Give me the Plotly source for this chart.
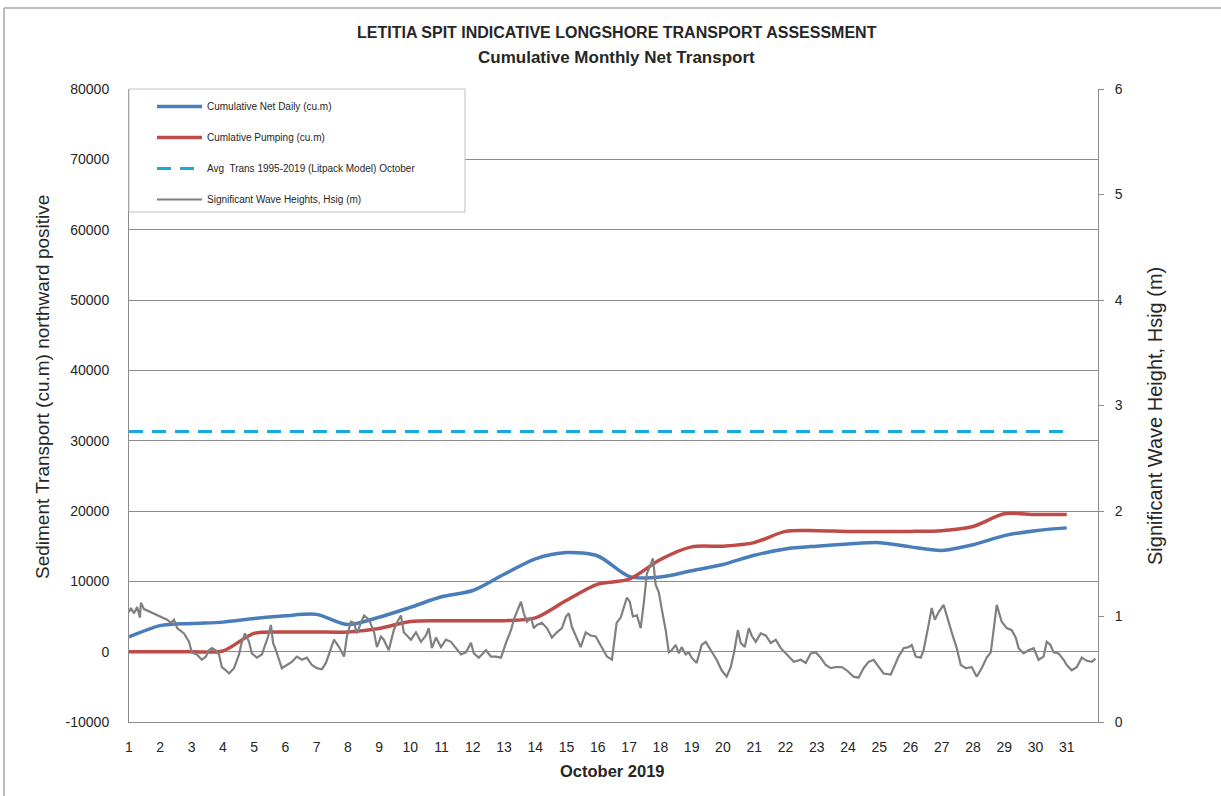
import plotly.graph_objects as go

# ---------------- data ----------------
days = list(range(1, 32))
day_labels = [str(d) for d in days]

left_ticks = [-10000, 0, 10000, 20000, 30000, 40000, 50000, 60000, 70000, 80000]
left_labels = ["-10000", "0", "10000", "20000", "30000", "40000", "50000", "60000", "70000", "80000"]
right_ticks = [0, 1, 2, 3, 4, 5, 6]

net_daily = [2100, 3700, 4000, 4200, 4700, 5100, 5300, 3850, 4900, 6300,
             7800, 8700, 11000, 13200, 14100, 13600, 10700, 10600, 11500, 12400,
             13700, 14600, 15000, 15300, 15500, 14900, 14400, 15200, 16500, 17200,
             17600]

pumping = [0, 0, 0, 100, 2600, 2800, 2800, 2800, 3300, 4300,
           4400, 4400, 4400, 4800, 7300, 9600, 10300, 13100, 14900, 15000,
           15500, 17100, 17200, 17100, 17100, 17100, 17200, 17800, 19600, 19500,
           19500]

avg_trans = 31300

wave_day = [1.00, 1.06, 1.16, 1.26, 1.35, 1.38, 1.48, 2.22, 2.34, 2.44, 2.54, 2.76, 2.92, 3.01, 3.17,
            3.33, 3.46, 3.56, 3.65, 3.78, 3.88, 3.97, 4.10, 4.20, 4.36, 4.52, 4.61, 4.71, 4.84, 4.93,
            5.09, 5.25, 5.38, 5.45, 5.54, 5.61, 5.70, 5.80, 5.89, 6.05, 6.21, 6.37, 6.53, 6.69, 6.85,
            7.01, 7.17, 7.30, 7.40, 7.56, 7.72, 7.88, 7.97, 8.10, 8.20, 8.29, 8.42, 8.52, 8.68, 8.84,
            8.93, 9.06, 9.15, 9.31, 9.47, 9.57, 9.70, 9.79, 9.89, 10.02, 10.18, 10.34, 10.50, 10.59, 10.69,
            10.82, 10.98, 11.14, 11.30, 11.46, 11.62, 11.78, 11.94, 12.03, 12.19, 12.42, 12.58, 12.74, 12.90, 13.06,
            13.22, 13.31, 13.41, 13.54, 13.63, 13.73, 13.86, 13.95, 14.05, 14.21, 14.37, 14.53, 14.69, 14.85, 14.98,
            15.07, 15.17, 15.29, 15.45, 15.61, 15.77, 15.93, 16.09, 16.19, 16.29, 16.45, 16.60, 16.73, 16.83, 16.93,
            17.02, 17.12, 17.25, 17.37, 17.47, 17.57, 17.69, 17.76, 17.85, 17.95, 18.05, 18.17, 18.27, 18.36, 18.49,
            18.59, 18.68, 18.81, 18.91, 19.00, 19.16, 19.32, 19.45, 19.61, 19.80, 19.96, 20.12, 20.25, 20.35, 20.48,
            20.57, 20.70, 20.83, 20.92, 21.05, 21.21, 21.37, 21.53, 21.69, 21.85, 22.04, 22.27, 22.49, 22.65, 22.81,
            22.97, 23.13, 23.29, 23.45, 23.61, 23.80, 23.96, 24.18, 24.34, 24.50, 24.66, 24.82, 24.98, 25.14, 25.37,
            25.46, 25.62, 25.78, 25.94, 26.04, 26.17, 26.33, 26.42, 26.58, 26.68, 26.78, 26.90, 27.06, 27.16, 27.32,
            27.48, 27.61, 27.77, 27.96, 28.12, 28.28, 28.44, 28.57, 28.66, 28.76, 28.92, 29.08, 29.24, 29.37, 29.46,
            29.62, 29.78, 29.94, 30.10, 30.26, 30.36, 30.48, 30.58, 30.74, 30.90, 31.00, 31.16, 31.32, 31.48, 31.64,
            31.80, 31.92]

wave_hsig = [1.04, 1.08, 1.03, 1.09, 0.99, 1.13, 1.07, 0.97, 0.94, 0.97, 0.89, 0.84, 0.76, 0.66, 0.64,
             0.59, 0.62, 0.68, 0.70, 0.68, 0.64, 0.52, 0.49, 0.46, 0.51, 0.64, 0.76, 0.84, 0.76, 0.65,
             0.61, 0.64, 0.75, 0.81, 0.92, 0.75, 0.68, 0.59, 0.51, 0.54, 0.57, 0.62, 0.59, 0.61, 0.54,
             0.51, 0.50, 0.56, 0.65, 0.78, 0.71, 0.62, 0.81, 0.95, 0.94, 0.84, 0.94, 1.01, 0.97, 0.85,
             0.71, 0.81, 0.78, 0.68, 0.87, 0.94, 1.01, 0.85, 0.82, 0.78, 0.85, 0.76, 0.82, 0.89, 0.70,
             0.80, 0.71, 0.78, 0.76, 0.70, 0.64, 0.66, 0.75, 0.65, 0.61, 0.68, 0.62, 0.62, 0.61, 0.75,
             0.87, 0.97, 1.04, 1.14, 1.03, 0.95, 0.99, 0.89, 0.92, 0.94, 0.89, 0.80, 0.85, 0.89, 1.00,
             1.03, 0.90, 0.82, 0.71, 0.85, 0.82, 0.81, 0.73, 0.68, 0.62, 0.59, 0.94, 0.99, 1.09, 1.18,
             1.14, 1.00, 1.01, 0.89, 1.13, 1.41, 1.49, 1.55, 1.30, 1.23, 1.06, 0.87, 0.66, 0.68, 0.73,
             0.65, 0.71, 0.64, 0.66, 0.61, 0.56, 0.73, 0.76, 0.68, 0.59, 0.49, 0.43, 0.52, 0.65, 0.87,
             0.75, 0.71, 0.89, 0.82, 0.76, 0.84, 0.82, 0.75, 0.78, 0.70, 0.64, 0.57, 0.59, 0.56, 0.65,
             0.66, 0.61, 0.54, 0.51, 0.52, 0.52, 0.49, 0.43, 0.42, 0.51, 0.57, 0.59, 0.52, 0.46, 0.45,
             0.51, 0.62, 0.70, 0.71, 0.73, 0.62, 0.61, 0.68, 0.92, 1.08, 0.97, 1.04, 1.11, 1.00, 0.85,
             0.70, 0.54, 0.51, 0.52, 0.43, 0.51, 0.61, 0.66, 0.87, 1.11, 0.95, 0.89, 0.87, 0.80, 0.70,
             0.65, 0.68, 0.70, 0.59, 0.62, 0.76, 0.73, 0.66, 0.65, 0.59, 0.54, 0.49, 0.52, 0.61, 0.58,
             0.57, 0.60]

names = ["Cumulative Net Daily (cu.m)",
         "Cumlative Pumping (cu.m)",
         "Avg\u00a0 Trans 1995-2019 (Litpack Model) October",
         "Significant Wave Heights, Hsig (m)"]

# ---------------- layout helpers (pixel -> paper) ----------------
W, H = 1221, 796
L, R, T, B = 129, 1098, 89, 722


def px(x):
    return (x - L) / (R - L)


def py(y):
    return (B - y) / (B - T)


FONT = "Liberation Sans"
TXT = "#262626"
GRID = "#8c8c8c"

fig = go.Figure()
fig.add_trace(go.Scatter(x=days, y=net_daily, mode="lines", name=names[0], legendgroup="g1",
                         line=dict(color="#4A7EBB", width=3.5, shape="spline", smoothing=0.8)))
fig.add_trace(go.Scatter(x=days, y=pumping, mode="lines", name=names[1], legendgroup="g2",
                         line=dict(color="#BE4B48", width=3.5, shape="spline", smoothing=0.8)))
fig.add_trace(go.Scatter(x=[days[0], days[-1]], y=[avg_trans, avg_trans], mode="lines", name=names[2],
                         legendgroup="g3", line=dict(color="#17A9E3", width=3, dash="14px,9px")))
fig.add_trace(go.Scatter(x=wave_day, y=wave_hsig, mode="lines", name=names[3], legendgroup="g4",
                         yaxis="y2", line=dict(color="#808080", width=2.2)))

fig.update_layout(
    width=W, height=H,
    margin=dict(l=L, r=W - R, t=T, b=H - B, pad=0),
    paper_bgcolor="white", plot_bgcolor="white",
    font=dict(family=FONT, size=14, color=TXT),
    showlegend=True,
    legend=dict(x=px(152), y=py(92), xanchor="left", yanchor="top",
                bgcolor="rgba(0,0,0,0)", borderwidth=0,
                font=dict(family=FONT, size=10, color=TXT),
                traceorder="grouped", tracegroupgap=12, itemwidth=45),
    xaxis=dict(range=[1, 32], tickmode="array", tickvals=days, ticktext=day_labels,
               showgrid=False, zeroline=False, showline=True, linecolor=GRID, linewidth=1,
               ticks="", ticklabelstandoff=12, tickfont=dict(size=14, color=TXT)),
    yaxis=dict(range=[-10000, 80000], tickmode="array", tickvals=left_ticks, ticktext=left_labels,
               showgrid=True, gridcolor=GRID,
               gridwidth=1, zeroline=False, showline=True, linecolor=GRID, linewidth=1,
               ticks="", ticklabelstandoff=16, tickfont=dict(size=14, color=TXT)),
    yaxis2=dict(range=[0, 6], tickmode="array", tickvals=right_ticks, overlaying="y", side="right",
                showgrid=False, zeroline=False, showline=True, linecolor=GRID, linewidth=1,
                ticks="outside", ticklen=5, tickcolor=GRID, ticklabelstandoff=8,
                tickfont=dict(size=14, color=TXT)),
)

# legend box, outer chart border
fig.add_shape(type="rect", xref="paper", yref="paper", x0=px(129), x1=px(465), y0=py(212), y1=py(89),
              line=dict(color="#bfbfbf", width=1), fillcolor="white", layer="above")
fig.add_shape(type="line", xref="paper", yref="paper", x0=px(4), x1=px(1221), y0=py(8), y1=py(8),
              line=dict(color="#a6a6a6", width=1.5))
fig.add_shape(type="line", xref="paper", yref="paper", x0=px(4), x1=px(4), y0=py(8), y1=py(800),
              line=dict(color="#a6a6a6", width=1.5))

ann = [
    dict(text="<b>LETITIA SPIT INDICATIVE LONGSHORE TRANSPORT ASSESSMENT</b>", x=px(617), y=py(33), size=16),
    dict(text="<b>Cumulative Monthly Net Transport</b>", x=px(616), y=py(57), size=17),
    dict(text="<b>October 2019</b>", x=px(612), y=py(771), size=16.5),
    dict(text="Sediment Transport (cu.m) northward positive", x=px(42), y=py(387), textangle=-90, size=19),
    dict(text="Significant Wave Height, Hsig (m)", x=px(1155), y=py(416), textangle=-90, size=20),
]
for a in ann:
    size = a.pop("size")
    fig.add_annotation(xref="paper", yref="paper", showarrow=False, xanchor="center", yanchor="middle",
                       font=dict(family=FONT, color=TXT, size=size), **a)

fig.write_html("out.html", config={"displayModeBar": False},
               post_script="document.body.style.margin='0px';")
